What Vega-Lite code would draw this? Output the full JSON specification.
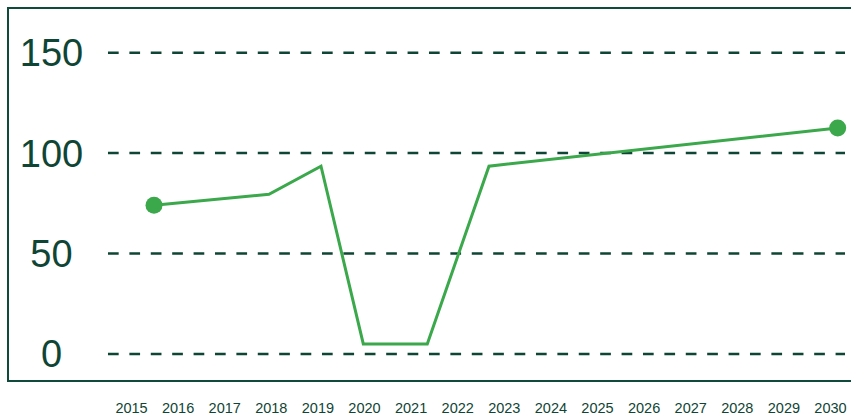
{
  "$schema": "https://vega.github.io/schema/vega-lite/v6.json",
  "width": 845,
  "height": 373,
  "autosize": {"type": "none"},
  "padding": {"left": 8, "top": 8, "right": 0, "bottom": 33},
  "background": "white",
  "config": {
    "view": {"stroke": "#0f4a3a", "strokeWidth": 2},
    "font": "Liberation Sans"
  },
  "datasets": {
    "grid": [{"v": 0}, {"v": 50}, {"v": 100}, {"v": 150}],
    "series": [
      {"year": 2015.494, "value": 74},
      {"year": 2017.961, "value": 79.5},
      {"year": 2019.077, "value": 93.5},
      {"year": 2019.985, "value": 5},
      {"year": 2021.358, "value": 5},
      {"year": 2022.682, "value": 93.5},
      {"year": 2030.165, "value": 112.5}
    ],
    "ends": [
      {"year": 2015.494, "value": 74},
      {"year": 2030.165, "value": 112.5}
    ]
  },
  "layer": [
    {
      "data": {"name": "grid"},
      "mark": {"type": "rule", "color": "#0f4535", "strokeWidth": 2.5, "strokeDash": [10.7, 10.7]},
      "encoding": {
        "y": {
          "field": "v",
          "type": "quantitative",
          "scale": {"domain": [-13.44, 172.23], "nice": false, "zero": false},
          "axis": {
            "values": [0, 50, 100, 150],
            "title": null,
            "domain": false,
            "ticks": false,
            "tickSize": 0,
            "grid": false,
            "offset": -43,
            "labelPadding": 0,
            "labelAlign": "center",
            "labelBaseline": "middle",
            "labelOffset": 2,
            "labelFontSize": 38,
            "labelColor": "#0f4535",
            "labelFont": "Liberation Sans"
          }
        },
        "x": {
          "datum": 2014.506,
          "type": "quantitative",
          "scale": {"domain": [2012.3605, 2030.4936], "nice": false, "zero": false},
          "axis": {
            "values": [2015, 2016, 2017, 2018, 2019, 2020, 2021, 2022, 2023, 2024, 2025, 2026, 2027, 2028, 2029, 2030],
            "format": "d",
            "title": null,
            "domain": false,
            "ticks": false,
            "tickSize": 0,
            "grid": false,
            "labelPadding": 20,
            "labelBaseline": "top",
            "labelFontSize": 14.5,
            "labelColor": "#0f4535",
            "labelFont": "Liberation Sans",
            "labelOverlap": false
          }
        },
        "x2": {"datum": 2030.322}
      }
    },
    {
      "data": {"name": "series"},
      "mark": {"type": "line", "color": "#3aa84b", "strokeWidth": 3},
      "encoding": {
        "x": {"field": "year", "type": "quantitative"},
        "y": {"field": "value", "type": "quantitative"}
      }
    },
    {
      "data": {"name": "ends"},
      "mark": {"type": "point", "filled": true, "opacity": 1, "color": "#3aa84b", "size": 290},
      "encoding": {
        "x": {"field": "year", "type": "quantitative"},
        "y": {"field": "value", "type": "quantitative"}
      }
    }
  ]
}
